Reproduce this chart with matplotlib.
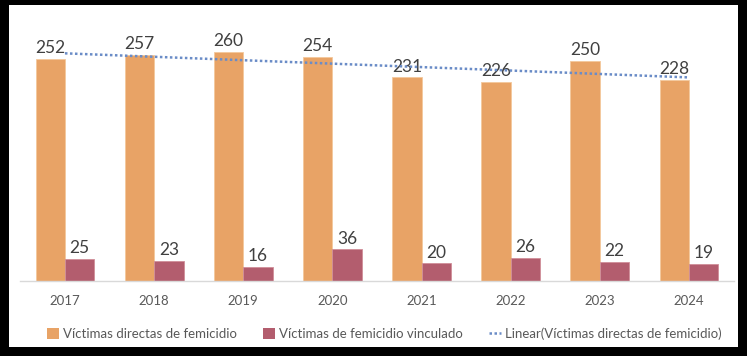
import numpy as np
import matplotlib.pyplot as plt
from matplotlib.patches import Rectangle, Patch
from matplotlib.lines import Line2D

# data
years = ['2017', '2018', '2019', '2020', '2021', '2022', '2023', '2024']
directas = [252, 257, 260, 254, 231, 226, 250, 228]
vinculado = [25, 23, 16, 36, 20, 26, 22, 19]

orange = '#E8A366'
mauve = '#B35D6E'
trend_c = '#6A8CC7'
lab_c = '#404040'
tick_c = '#595959'

plt.rcParams['font.family'] = ['Lato', 'DejaVu Sans']

W, H = 747, 356
fig = plt.figure(figsize=(W / 100, H / 100), dpi=100, facecolor='black')
# white chart area inside the black frame
fig.patches.append(Rectangle((9 / W, 9 / H), 729 / W, 342 / H,
                             transform=fig.transFigure, facecolor='white',
                             edgecolor='none', zorder=-5))

ax = fig.add_axes([20.4 / W, 75 / H, 713.2 / W, 264.3 / H])
ax.set_facecolor('none')

x = np.arange(len(years))
bw = 0.33
b1 = ax.bar(x - bw / 2, directas, bw, color=orange, edgecolor='#F3C89C', linewidth=0.6, zorder=2)
b2 = ax.bar(x + bw / 2, vinculado, bw, color=mauve, edgecolor='#D08E99', linewidth=0.6, zorder=2)

for bars, vals in ((b1, directas), (b2, vinculado)):
    for r, v in zip(bars, vals):
        ax.annotate(str(v), (r.get_x() + r.get_width() / 2, v), xytext=(0, 2),
                    textcoords='offset points', ha='center', va='bottom',
                    fontsize=12.5, color=lab_c, zorder=3)

# linear trendline of the direct victims series
k, b = np.polyfit(x, directas, 1)
ax.plot(x, k * x + b, color=trend_c, linestyle=(0, (1, 1)), linewidth=1.8, zorder=4)

ax.set_xlim(-0.5, len(years) - 0.5)
ax.set_ylim(0, 300)
ax.set_xticks(x)
ax.set_xticklabels(years, fontsize=9.5, color=tick_c)
ax.tick_params(axis='x', length=0, pad=10)
ax.set_yticks([])
for s in ('top', 'left', 'right'):
    ax.spines[s].set_visible(False)
ax.spines['bottom'].set_color('#D9D9D9')
ax.spines['bottom'].set_linewidth(1)

handles = [Patch(facecolor=orange, edgecolor='none'),
           Patch(facecolor=mauve, edgecolor='none'),
           Line2D([], [], color=trend_c, linestyle=(0, (1, 1)), linewidth=1.8)]
labels = ['Víctimas directas de femicidio', 'Víctimas de femicidio vinculado',
          'Linear(Víctimas directas de femicidio)']
leg = fig.legend(handles, labels, loc='center', bbox_to_anchor=(384 / W, 1 - 334 / H),
                 ncol=3, frameon=False, fontsize=9.5, handlelength=0.9, handleheight=0.9,
                 handletextpad=0.3, columnspacing=2.0, labelcolor=tick_c)

fig.savefig('out.png', dpi=100, facecolor='black')
